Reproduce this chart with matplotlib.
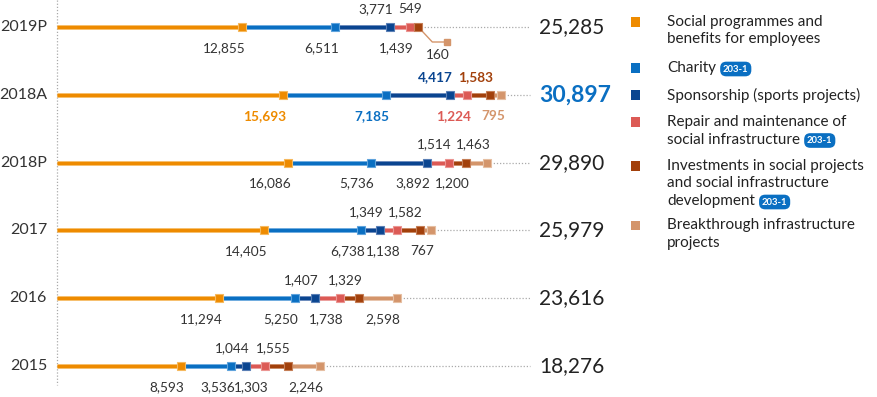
import matplotlib
matplotlib.use("Agg")
import matplotlib.pyplot as plt
import numpy as np

plt.rcParams['font.family'] = ['Lato', 'DejaVu Sans']

years = ["2019P", "2018A", "2018P", "2017", "2016", "2015"]
totals = ["25,285", "30,897", "29,890", "25,979", "23,616", "18,276"]
social = [12855, 15693, 16086, 14405, 11294, 8593]
charity = [6511, 7185, 5736, 6738, 5250, 3536]
sponsorship = [3771, 4417, 3892, 1349, 1407, 1044]
repair = [1439, 1224, 1514, 1138, 1738, 1303]
investments = [549, 1583, 1200, 1582, 1329, 1555]
breakthrough = [160, 795, 1463, 767, 2598, 2246]

series_names = ["Social programmes and\nbenefits for employees",
                "Charity",
                "Sponsorship (sports projects)",
                "Repair and maintenance of\nsocial infrastructure",
                "Investments in social projects\nand social infrastructure\ndevelopment",
                "Breakthrough infrastructure\nprojects"]
badges = [False, True, False, True, True, False]
colors = ["#EE8B00", "#0A6FC2", "#0A4590", "#DC5A55", "#A2400B", "#D4956B"]
edge_colors = ["#F6B95E", "#5FA3DC", "#5A7FB5", "#EB9592", "#C47D55", "#E6BFA2"]
# label placement per row: B = below, A = above, L = leader line
label_pos = ["BBABAL", "BBABAB", "BBBABA", "BBABAB", "BBABAB", "BBABAB"]
highlight_row = "2018A"

W, H = 878, 397
fig = plt.figure(figsize=(W / 100, H / 100), dpi=100)
ax = fig.add_axes([0, 0, 1, 1])
ax.axis('off')

x0_px = 57
scale = 0.01438  # px per unit
ax.set_xlim(-x0_px / scale, (W - x0_px) / scale)
row0_px, row_step = 27, 67.8
ax.set_ylim((H - row0_px) / row_step, -row0_px / row_step)

def px2x(px):
    return (px - x0_px) / scale

def dpx2x(dpx):
    return dpx / scale

def dpx2y(dpx):
    return dpx / row_step

# vertical axis dotted line
ax.plot([0, 0], [-row0_px / row_step, (385 - row0_px) / row_step],
        color="#AAAAAA", lw=0.9, ls=(0, (1, 1.5)), zorder=1)

data = np.array([social, charity, sponsorship, repair, investments, breakthrough]).T

for i, (yr, vals) in enumerate(zip(years, data)):
    cum = np.concatenate([[0], np.cumsum(vals)])
    hl = (yr == highlight_row)
    ax.plot([cum[-1], px2x(530)], [i, i], color="#AAAAAA", lw=0.9,
            ls=(0, (1, 1.5)), zorder=1)
    nseg = len(vals)
    for k in range(nseg):
        ax.plot([cum[k], cum[k + 1]], [i, i], color=edge_colors[k], lw=3.4,
                solid_capstyle='butt', zorder=2)
        ax.plot([cum[k], cum[k + 1]], [i, i], color=colors[k], lw=2.2,
                solid_capstyle='butt', zorder=3)
    for k in range(nseg):
        mx, my = cum[k + 1], i
        pos = label_pos[i][k]
        if pos == "L":
            lx = [cum[k], cum[k] + dpx2x(14), cum[k] + dpx2x(29)]
            ly = [i, i + dpx2y(15), i + dpx2y(15)]
            ax.plot(lx, ly, color=colors[k], lw=1.0, zorder=2)
            mx, my = lx[-1], ly[-1]
            ax.plot([mx], [my], marker='s', ms=4, color=colors[k],
                    mec=colors[k], zorder=5)
            ax.text(mx + dpx2x(2), my + dpx2y(13), f"{vals[k]:,}", ha='right',
                    va='center', fontsize=9.8, color="#333333", zorder=6)
            continue
        ax.plot([mx], [my], marker='s', ms=6.3, color=colors[k],
                mec=edge_colors[k], mew=0.8, zorder=5)
        dy = dpx2y(21) if pos == "B" else dpx2y(-18)
        ax.text(mx + dpx2x(3.5), my + dy, f"{vals[k]:,}", ha='right', va='center',
                fontsize=9.8, color=colors[k] if hl else "#333333",
                fontweight='bold' if hl else 'normal', zorder=6)
    ax.text(px2x(47), i, yr, ha='right', va='center', fontsize=11.5,
            color="#333333")
    ax.text(px2x(539), i, totals[i], ha='left', va='center',
            fontsize=16.5 if hl else 15,
            color="#0A6FC2" if hl else "#222222",
            fontweight='bold' if hl else 'normal')

# legend
fig.canvas.draw()
renderer = fig.canvas.get_renderer()
leg_y = [22, 68, 95, 122, 166, 225]
line_h = 17.5
for k, name in enumerate(series_names):
    y = leg_y[k]
    fig.patches.append(plt.Rectangle(((636 - 4.5) / W, 1 - (y + 4.5) / H), 9 / W, 9 / H,
                                     transform=fig.transFigure, facecolor=colors[k],
                                     edgecolor='none'))
    lines = name.split("\n")
    for j, ln in enumerate(lines):
        yy = y + j * line_h
        t = fig.text(667 / W, 1 - yy / H, ln, ha='left', va='center',
                     fontsize=11, color="#222222")
        if badges[k] and j == len(lines) - 1:
            bb = t.get_window_extent(renderer)
            fig.text((bb.x1 + 7) / W, 1 - (yy + 1) / H, "203-1", ha='left',
                     va='center', fontsize=6.8, fontweight='bold', color='white',
                     bbox=dict(boxstyle='round,pad=0.3,rounding_size=0.65',
                               facecolor='#0A6FC2', edgecolor='none'))

fig.savefig("out.png", dpi=100)
